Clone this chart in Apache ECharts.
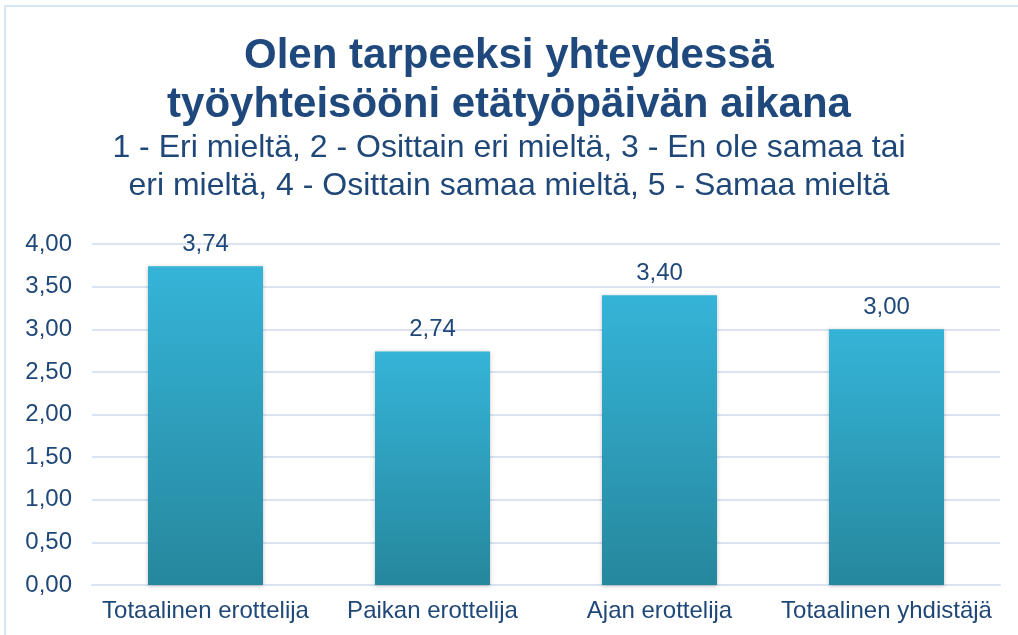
<!DOCTYPE html>
<html>
<head>
<meta charset="utf-8">
<script src="https://cdn.jsdelivr.net/npm/echarts@6/dist/echarts.min.js"></script>
<style>
  html, body { margin: 0; padding: 0; background: #fff; }
  #frame { position: absolute; left: 4px; top: 5px; width: 1100px; height: 700px;
           border-left: 2px solid #D7E5F5; border-top: 2px solid #D7E5F5; }
  #chart { position: absolute; left: 0; top: 0; width: 1018px; height: 635px; }
</style>
</head>
<body>
<div id="frame"></div>
<div id="chart"></div>
<script>
const categories = ['Totaalinen erottelija', 'Paikan erottelija', 'Ajan erottelija', 'Totaalinen yhdistäjä'];
const values = [3.74, 2.74, 3.40, 3.00];
const titleText = 'Olen tarpeeksi yhteydessä\ntyöyhteisööni etätyöpäivän aikana';
const subText = '1 - Eri mieltä, 2 - Osittain eri mieltä, 3 - En ole samaa tai\neri mieltä, 4 - Osittain samaa mieltä, 5 - Samaa mieltä';

const fmt = v => v.toFixed(2).replace('.', ',');
const textColor = '#1F4778';
const font = 'Liberation Sans, Arial, sans-serif';

const chart = echarts.init(document.getElementById('chart'));
chart.setOption({
  backgroundColor: 'transparent',
  title: [
    {
      text: titleText,
      left: 'center',
      top: 27,
      textStyle: {
        fontFamily: font,
        fontSize: 42,
        fontWeight: 'bold',
        color: '#1F497D',
        lineHeight: 49
      }
    },
    {
      text: subText,
      left: 'center',
      top: 124,
      textStyle: {
        fontFamily: font,
        fontSize: 32,
        fontWeight: 'normal',
        color: textColor,
        lineHeight: 38
      }
    }
  ],
  grid: {
    left: 92,
    right: 18,
    top: 244,
    bottom: 50,
    containLabel: false
  },
  xAxis: {
    type: 'category',
    data: categories,
    axisLine: { show: true, lineStyle: { color: '#D9E3F1', width: 2 } },
    axisTick: { show: false },
    axisLabel: {
      interval: 0,
      fontFamily: font,
      fontSize: 24,
      color: textColor,
      margin: 14
    }
  },
  yAxis: {
    type: 'value',
    min: 0,
    max: 4,
    interval: 0.5,
    axisLine: { show: false },
    axisTick: { show: false },
    splitLine: { lineStyle: { color: '#D9E3F1', width: 2 } },
    axisLabel: {
      fontFamily: font,
      fontSize: 24,
      color: textColor,
      margin: 20,
      formatter: v => fmt(v)
    }
  },
  series: [
    {
      type: 'bar',
      data: values,
      barWidth: 115,
      itemStyle: {
        color: new echarts.graphic.LinearGradient(0, 0, 0, 1, [
          { offset: 0, color: '#35B4D8' },
          { offset: 1, color: '#26879D' }
        ]),
        shadowColor: 'rgba(0,0,0,0.25)',
        shadowBlur: 4,
        shadowOffsetY: 1
      },
      label: {
        show: true,
        position: 'top',
        distance: 10,
        fontFamily: font,
        fontSize: 24,
        color: textColor,
        formatter: p => fmt(p.value)
      }
    }
  ]
});
</script>
</body>
</html>
